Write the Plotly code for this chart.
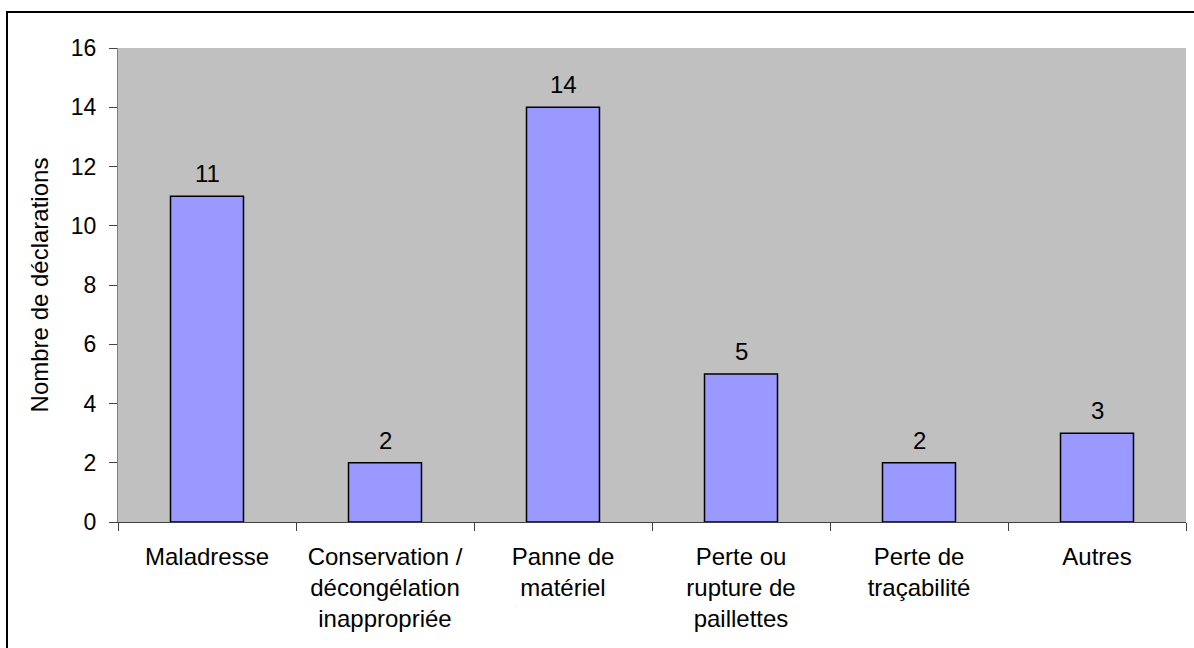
import plotly.graph_objects as go

categories = ["Maladresse", "Conservation /<br>décongélation<br>inappropriée", "Panne de<br>matériel",
              "Perte ou<br>rupture de<br>paillettes", "Perte de<br>traçabilité", "Autres"]
values = [11, 2, 14, 5, 2, 3]
y_ticks = [0, 2, 4, 6, 8, 10, 12, 14, 16]

FONT = "Liberation Sans, Arial, sans-serif"

fig = go.Figure(go.Bar(
    x=categories, y=values,
    marker=dict(color="#9999FF", line=dict(color="#000000", width=1.5)),
    width=0.41, hoverinfo="skip",
))

for c, v in zip(categories, values):
    fig.add_annotation(x=c, y=v, text=str(v), showarrow=False, yanchor="bottom",
                       yshift=7, font=dict(family=FONT, size=24, color="#000000"))

fig.update_layout(
    width=1194, height=648,
    margin=dict(l=118, r=8, t=48, b=126),
    paper_bgcolor="#FFFFFF", plot_bgcolor="#C0C0C0",
    font=dict(family=FONT, size=24, color="#000000"),
    showlegend=False,
    shapes=[dict(type="rect", xref="paper", yref="paper",
                 x0=(7 - 118) / 1068, x1=(1210 - 118) / 1068,
                 y0=(522 - 670) / 474, y1=(522 - 12) / 474,
                 line=dict(color="#000000", width=2), fillcolor="rgba(0,0,0,0)", layer="below")],
)
fig.update_xaxes(
    type="category", tickson="boundaries", ticks="outside", ticklen=8, tickcolor="#404040",
    showline=True, linecolor="#404040", linewidth=1.2, showgrid=False,
    tickfont=dict(family=FONT, size=24), tickangle=0, ticklabelstandoff=13,
)
fig.update_yaxes(
    range=[0, 16], tickvals=y_ticks, ticks="outside", ticklen=8, tickcolor="#404040",
    showline=True, linecolor="#808080", linewidth=1.2, showgrid=False, zeroline=False,
    tickfont=dict(family=FONT, size=23), ticklabelstandoff=8,
    title=dict(text="Nombre de déclarations", font=dict(family=FONT, size=24), standoff=15),
)

fig.write_html("out.html", config={"displayModeBar": False},
               post_script="document.body.style.margin='0';")
